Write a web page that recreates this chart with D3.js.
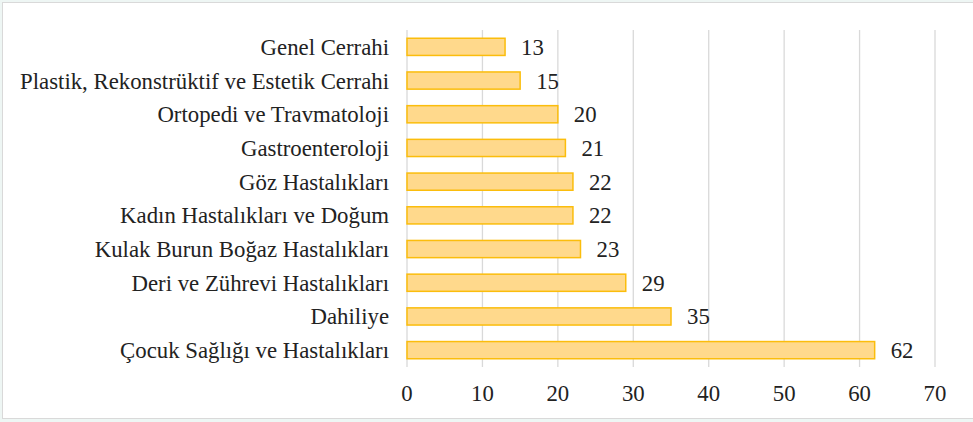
<!DOCTYPE html>
<html>
<head>
<meta charset="utf-8">
<script src="https://cdn.jsdelivr.net/npm/d3@7"></script>
</head>
<body style="margin:0;background:#eef6f4">
<svg id="s" width="973" height="422" font-family="Liberation Serif"></svg>
<script>
// Data (top to bottom)
const departments = [
    "Genel Cerrahi",
    "Plastik, Rekonstrüktif ve Estetik Cerrahi",
    "Ortopedi ve Travmatoloji",
    "Gastroenteroloji",
    "Göz Hastalıkları",
    "Kadın Hastalıkları ve Doğum",
    "Kulak Burun Boğaz Hastalıkları",
    "Deri ve Zührevi Hastalıkları",
    "Dahiliye",
    "Çocuk Sağlığı ve Hastalıkları"
];
const counts = [13, 15, 20, 21, 22, 22, 23, 29, 35, 62];
const xTicks = [0, 10, 20, 30, 40, 50, 60, 70];

const svg = d3.select('#s');
const width = 973;
const height = 422;
const margin = { top: 30, right: 38, bottom: 55, left: 407 };
const font = 'Liberation Serif';
const fontSize = 24;
const squeeze = 0.95; // reference text is slightly condensed

// Chart frame
svg.append('rect')
    .attr('x', 2.5)
    .attr('y', 2.5)
    .attr('width', width + 10)
    .attr('height', height - 6)
    .attr('fill', '#fff')
    .attr('stroke', '#d9d9d9');

const x = d3.scaleLinear()
    .domain([0, 70])
    .range([margin.left, width - margin.right]);

const y = d3.scaleBand()
    .domain(departments)
    .range([margin.top, height - margin.bottom])
    .paddingInner(0.49)
    .paddingOuter(0.245);

// Vertical gridlines
svg.selectAll('line.grid')
    .data(xTicks)
    .join('line')
    .attr('class', 'grid')
    .attr('x1', d => x(d))
    .attr('x2', d => x(d))
    .attr('y1', margin.top)
    .attr('y2', height - margin.bottom)
    .attr('stroke', '#d9d9d9')
    .attr('stroke-width', 1.3);

// Bars
svg.selectAll('rect.bar')
    .data(departments)
    .join('rect')
    .attr('class', 'bar')
    .attr('x', x(0))
    .attr('y', d => y(d))
    .attr('width', (d, i) => x(counts[i]) - x(0))
    .attr('height', y.bandwidth())
    .attr('fill', '#ffd98c')
    .attr('stroke', '#fbbd0c')
    .attr('stroke-width', 1.5);

// helper: place a condensed text
function place(sel, fx, fy) {
    sel.attr('transform', (d, i) => `translate(${fx(d, i)},${fy(d, i)}) scale(${squeeze},1)`)
        .attr('font-family', font)
        .attr('font-size', fontSize)
        .attr('fill', '#222');
}

// Value labels
svg.selectAll('text.value')
    .data(departments)
    .join('text')
    .attr('class', 'value')
    .call(place, (d, i) => x(counts[i]) + 16, d => y(d) + y.bandwidth() / 2 + 8)
    .text((d, i) => counts[i]);

// Category labels
svg.selectAll('text.cat')
    .data(departments)
    .join('text')
    .attr('class', 'cat')
    .attr('text-anchor', 'end')
    .call(place, () => margin.left - 18, d => y(d) + y.bandwidth() / 2 + 8)
    .text(d => d);

// X tick labels
svg.selectAll('text.tick')
    .data(xTicks)
    .join('text')
    .attr('class', 'tick')
    .attr('text-anchor', 'middle')
    .call(place, d => x(d), () => 401)
    .text(d => d);
</script>
</body>
</html>
